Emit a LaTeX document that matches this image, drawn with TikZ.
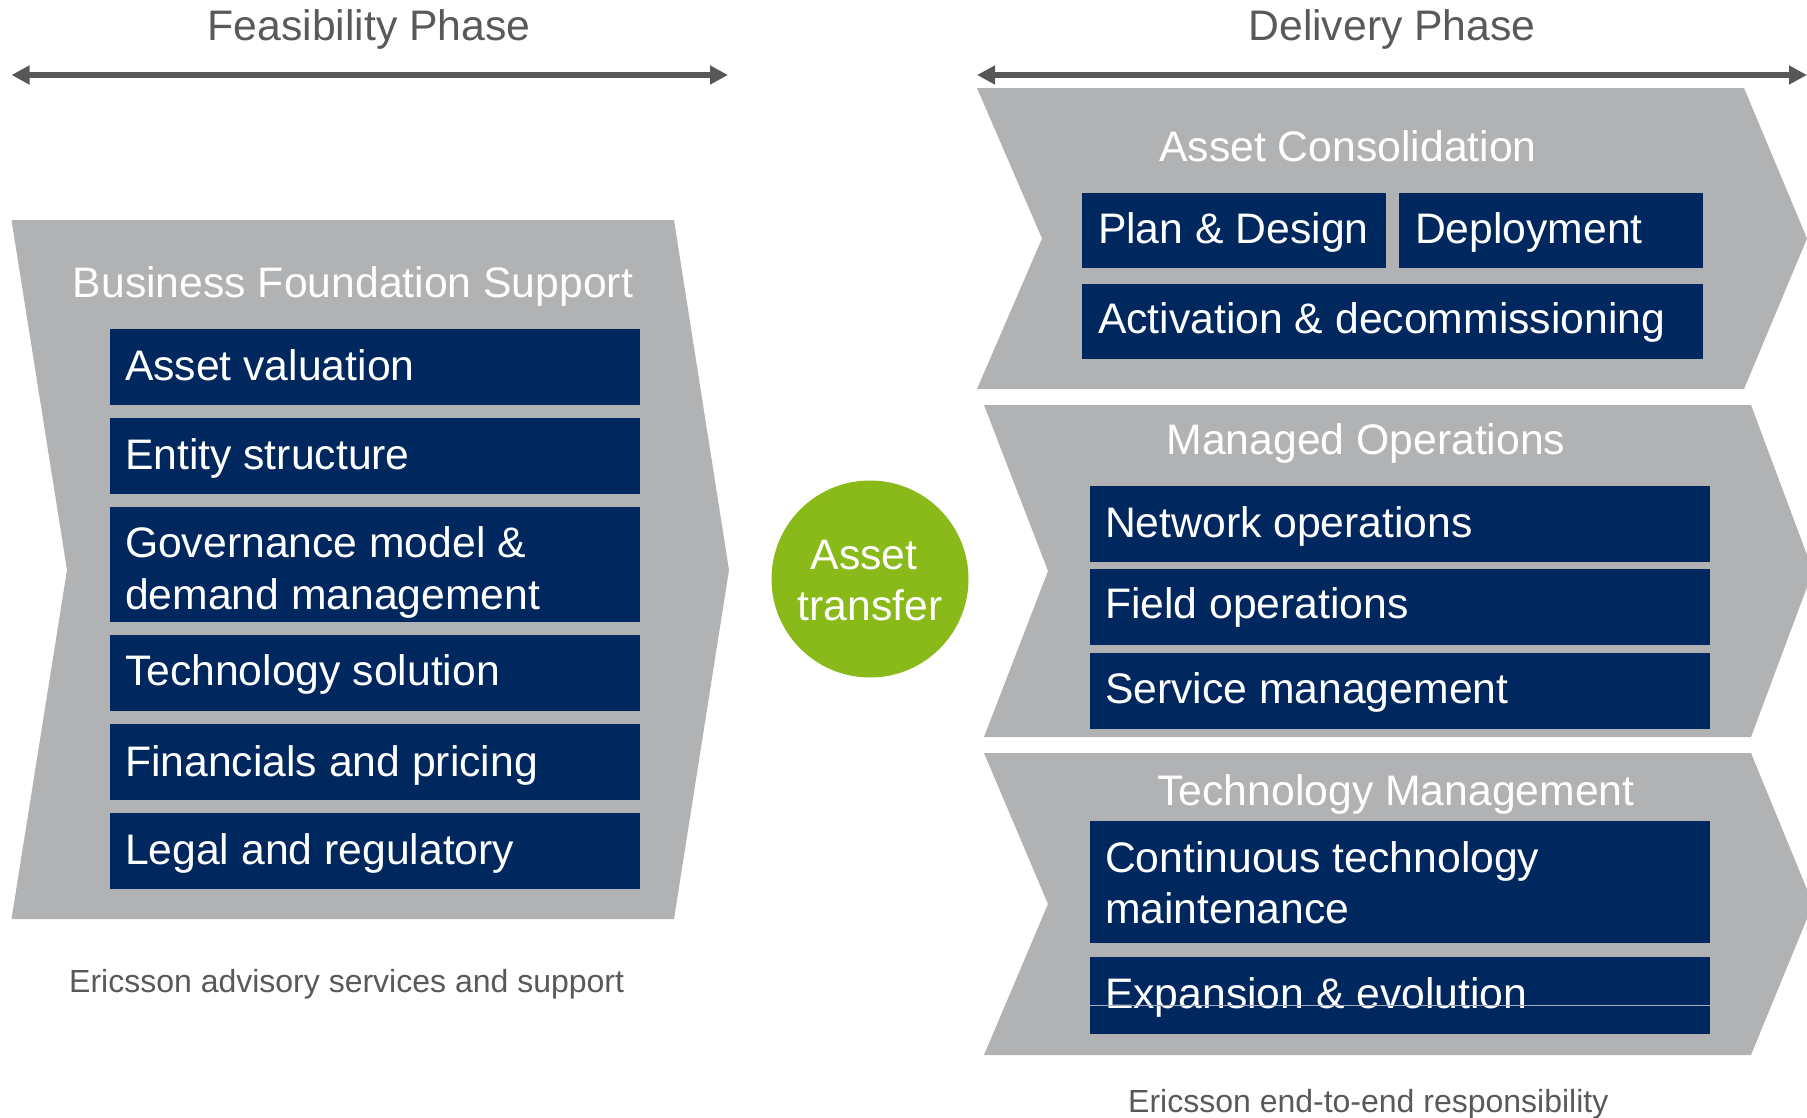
\documentclass[tikz,border=0pt]{standalone}
\usepackage{fontspec}
\setmainfont{Liberation Sans}
\usetikzlibrary{arrows.meta}
\definecolor{chev}{HTML}{B1B2B4}
\definecolor{navy}{HTML}{00285E}
\definecolor{lime}{HTML}{8AB91A}
\definecolor{txtgrey}{HTML}{595959}
\definecolor{arrgrey}{HTML}{555759}
\definecolor{seamcol}{HTML}{A3ABBC}
\begin{document}
\begin{tikzpicture}[x=1pt,y=-1pt,
  chevron/.style={fill=chev,draw=none},
  bluebox/.style={fill=navy,draw=none,inner sep=0pt,outer sep=0pt,anchor=north west},
  boxtext/.style={text=white,font=\fontsize{42.7}{52}\selectfont,inner sep=0pt,outer sep=0pt,anchor=base west},
  grouptitle/.style={text=white,font=\fontsize{42.7}{52}\selectfont,inner sep=0pt,anchor=base},
  phasetitle/.style={text=txtgrey,font=\fontsize{42.7}{52}\selectfont,inner sep=0pt,anchor=base},
  captiontext/.style={text=txtgrey,font=\fontsize{32}{38}\selectfont,inner sep=0pt,anchor=base west},
  spanarrow/.style={draw=arrgrey,line width=5.7pt,{Triangle[length=18pt,width=18pt]}-{Triangle[length=18pt,width=18pt]}},
  seamline/.style={draw=seamcol,line width=1pt},
]
\useasboundingbox (0,0) rectangle (1807,1117);
\clip (0,0) rectangle (1807,1117);

% phase headers and span arrows
\node[phasetitle] (feas) at (369,40.5) {Feasibility Phase};
\node[phasetitle] (deliv) at (1392,40.5) {Delivery Phase};
\coordinate (fa) at (11.5,75);
\coordinate (fb) at (728,75);
\coordinate (da) at (977,75);
\coordinate (db) at (1807,75);
\draw[spanarrow] (fa) -- (fb);
\draw[spanarrow] (da) -- (db);

% chevrons
\path[chevron] (11.5,220) -- (674,220) -- (729,570) -- (674,919) -- (11.5,919) -- (67,570) -- cycle;
\path[chevron] (977,88) -- (1744,88) -- (1807,238.5) -- (1744,389) -- (977,389) -- (1042,238.5) -- cycle;
\path[chevron] (984,405) -- (1751,405) -- (1813,571) -- (1751,737) -- (984,737) -- (1048,571) -- cycle;
\path[chevron] (984,753) -- (1751,753) -- (1813,904) -- (1751,1055) -- (984,1055) -- (1048,904) -- cycle;

% Business Foundation Support
\node[grouptitle] (bfs) at (353,297.5) {Business Foundation Support};
\node[bluebox,minimum width=530pt,minimum height=75.5pt] (b1) at (110,329) {};
\node[boxtext] (t1) at (125,380) {Asset valuation};
\node[bluebox,minimum width=530pt,minimum height=76pt] (b2) at (110,418) {};
\node[boxtext] (t2) at (125,469.5) {Entity structure};
\node[bluebox,minimum width=530pt,minimum height=114.5pt] (b3) at (110,507) {};
\node[boxtext] (t3a) at (125,557) {Governance model \&};
\node[boxtext] (t3b) at (125,609) {demand management};
\node[bluebox,minimum width=530pt,minimum height=76pt] (b4) at (110,635) {};
\node[boxtext] (t4) at (125,685) {Technology solution};
\node[bluebox,minimum width=530pt,minimum height=76pt] (b5) at (110,724) {};
\node[boxtext] (t5) at (125,776) {Financials and pricing};
\node[bluebox,minimum width=530pt,minimum height=76pt] (b6) at (110,813) {};
\node[boxtext] (t6) at (125,864.5) {Legal and regulatory};
\node[captiontext] (cap1) at (69,992) {Ericsson advisory services and support};

% Asset transfer
\node[circle,fill=lime,draw=none,minimum size=197pt,inner sep=0pt] (at) at (870,579) {};
\node[grouptitle] (at1) at (864,569) {Asset};
\node[grouptitle] (at2) at (870,620) {transfer};

% Asset Consolidation
\node[grouptitle] (ac) at (1348,161.5) {Asset Consolidation};
\node[bluebox,minimum width=304pt,minimum height=75pt] (b7) at (1082,193) {};
\node[boxtext] (t7) at (1098,243) {Plan \& Design};
\node[bluebox,minimum width=304pt,minimum height=75pt] (b8) at (1399,193) {};
\node[boxtext] (t8) at (1415,243) {Deployment};
\node[bluebox,minimum width=621pt,minimum height=75pt] (b9) at (1082,284) {};
\node[boxtext] (t9) at (1098,333.5) {Activation \& decommissioning};

% Managed Operations
\node[grouptitle] (mo) at (1366,454) {Managed Operations};
\node[bluebox,minimum width=620pt,minimum height=76pt] (b10) at (1090,486) {};
\node[boxtext] (t10) at (1105,537) {Network operations};
\node[bluebox,minimum width=620pt,minimum height=76pt] (b11) at (1090,569) {};
\node[boxtext] (t11) at (1105,618) {Field operations};
\node[bluebox,minimum width=620pt,minimum height=76pt] (b12) at (1090,653) {};
\node[boxtext] (t12) at (1105,703) {Service management};

% Technology Management
\node[grouptitle] (tm) at (1396,805) {Technology Management};
\node[bluebox,minimum width=620pt,minimum height=121.5pt] (b13) at (1090,821) {};
\node[boxtext] (t13a) at (1105,872.5) {Continuous technology};
\node[boxtext] (t13b) at (1105,923) {maintenance};
\node[bluebox,minimum width=620pt,minimum height=77pt] (b14) at (1090,957) {};
\node[boxtext] (t14) at (1105,1008) {Expansion \& evolution};
\coordinate (s1) at (1090,1005);
\coordinate (s2) at (1710,1005);
\draw[seamline] (s1) -- (s2);
\node[captiontext] (cap2) at (1128,1112) {Ericsson end-to-end responsibility};
\end{tikzpicture}
\end{document}
